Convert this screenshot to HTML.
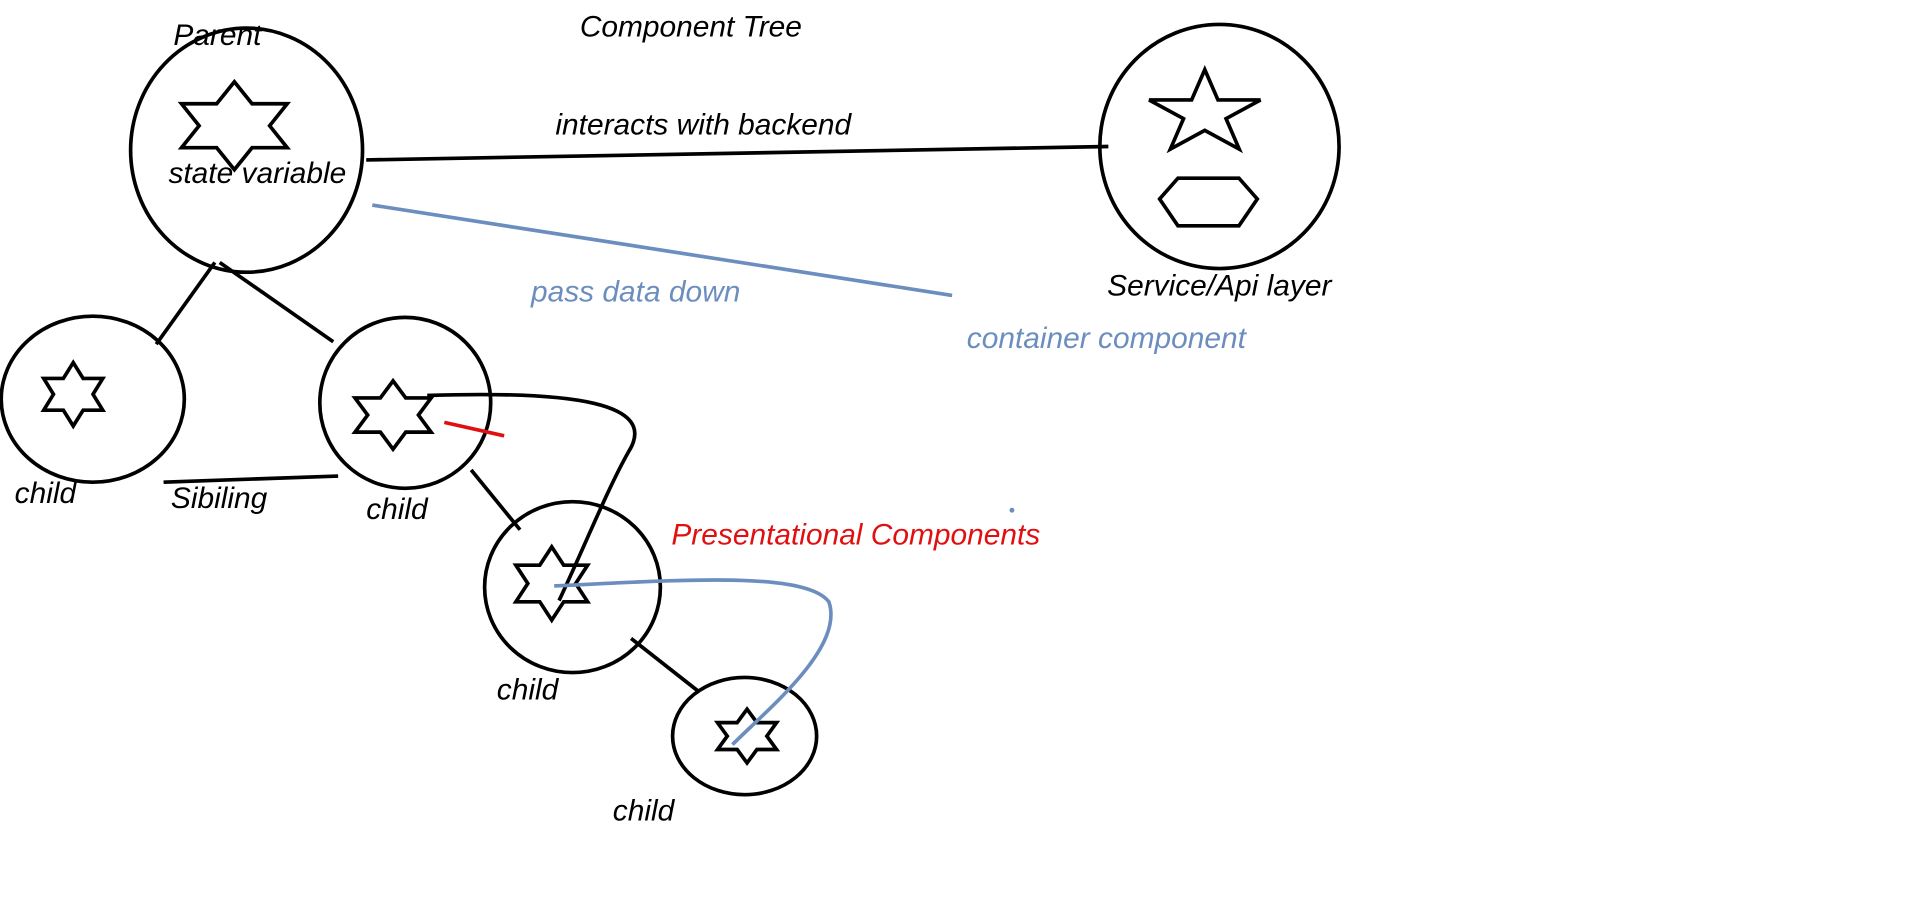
<!DOCTYPE html>
<html><head><meta charset="utf-8"><style>
html,body{margin:0;padding:0;background:#fff;}
svg{display:block;}
text{font-family:"Liberation Sans",sans-serif;font-style:italic;font-size:24.5px;}
</style></head><body>
<svg width="1914" height="903" viewBox="0 0 1568 739.75" xmlns="http://www.w3.org/2000/svg">
<g fill="none" stroke="#000" stroke-width="3">
<ellipse cx="202" cy="123" rx="95" ry="100"/>
<ellipse cx="999" cy="120" rx="98" ry="100"/>
<ellipse cx="76" cy="327" rx="75" ry="68"/>
<ellipse cx="332" cy="330" rx="70" ry="70"/>
<ellipse cx="469" cy="481" rx="72" ry="70"/>
<ellipse cx="610" cy="603" rx="59" ry="48"/>
<polygon points="192,67 206.5,85 235.3,85 220.9,103 235.3,121 206.5,121 192,139 177.5,121 148.7,121 163.1,103 148.7,85 177.5,85"/>
<polygon points="60,297 68.1,310 84.2,310 76.2,323 84.2,336 68.1,336 60,349 51.9,336 35.8,336 43.8,323 35.8,310 51.9,310"/>
<polygon points="322,312 332.4,326 353.2,326 342.8,340 353.2,354 332.4,354 322,368 311.6,354 290.8,354 301.2,340 290.8,326 311.6,326"/>
<polygon points="452,448 461.8,463 481.4,463 471.6,478 481.4,493 461.8,493 452,508 442.2,493 422.6,493 432.4,478 422.6,463 442.2,463"/>
<polygon points="612,581 620.1,592 636.2,592 628.2,603 636.2,614 620.1,614 612,625 603.9,614 587.8,614 595.8,603 587.8,592 603.9,592"/>
<polygon points="987,57 997.8,81.9 1032.6,81.9 1004.4,97.2 1015.2,122.1 987,106.8 958.8,122.1 969.6,97.2 941.4,81.9 976.2,81.9"/>
<polygon points="950,163 965,146 1015,146 1030,163 1015,185 965,185" />
<line x1="300" y1="131" x2="908" y2="120"/>
<line x1="176" y1="215" x2="128" y2="282"/>
<line x1="180" y1="215" x2="273" y2="280"/>
<line x1="134" y1="395" x2="277" y2="390"/>
<line x1="386" y1="385" x2="426" y2="434"/>
<line x1="517" y1="523" x2="573" y2="567"/>
<path d="M350,324 C470,320 540,330 515,370 C498,400 480,445 458,492"/>
</g>
<line x1="364" y1="346" x2="413" y2="357" stroke="#e01010" stroke-width="3"/>
<g fill="none" stroke="#6c8ebf" stroke-width="3">
<line x1="305" y1="168" x2="780" y2="242"/>
<path d="M454,480 C560,475 660,468 679,493 C692,530 630,580 600,610"/>
</g>
<circle cx="829" cy="418" r="2" fill="#6c8ebf"/>
<text x="142" y="37">Parent</text>
<text x="475" y="30">Component Tree</text>
<text x="138" y="150">state variable</text>
<text x="455" y="110">interacts with backend</text>
<text x="907" y="242">Service/Api layer</text>
<text x="435" y="247" fill="#6c8ebf">pass data down</text>
<text x="792" y="285" fill="#6c8ebf">container component</text>
<text x="12" y="412">child</text>
<text x="140" y="416">Sibiling</text>
<text x="300" y="425">child</text>
<text x="550" y="446" fill="#e01010">Presentational Components</text>
<text x="407" y="573">child</text>
<text x="502" y="672">child</text>
</svg>
</body></html>
